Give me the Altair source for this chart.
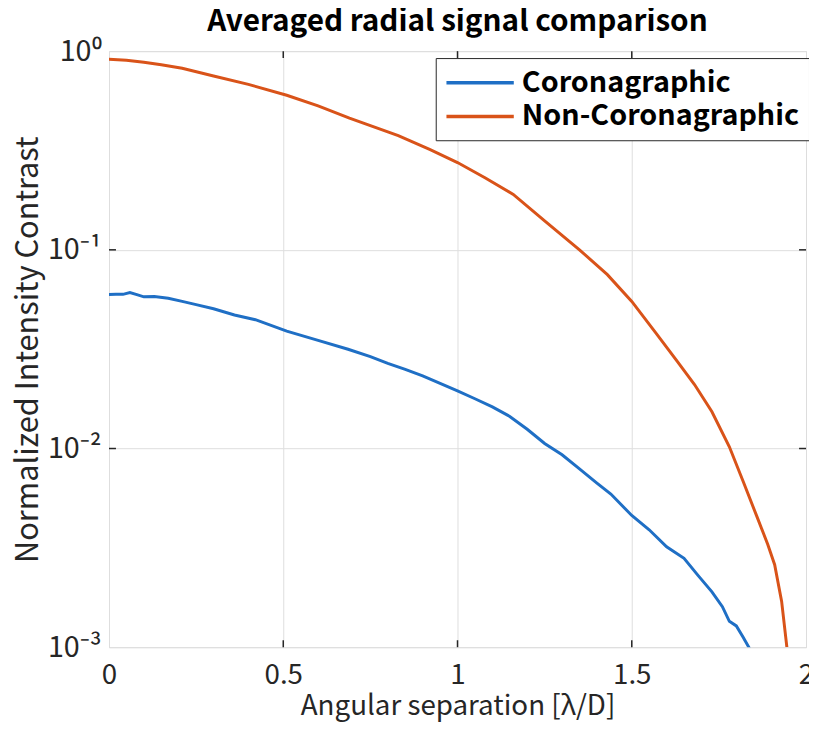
import altair as alt
import pandas as pd

FONT = "Noto Sans CJK JP"

series_names = ["Coronagraphic", "Non-Coronagraphic"]
series_colors = ["#1f6fc5", "#d95319"]

x_coro = [0.0, 0.02, 0.04, 0.06, 0.08, 0.1, 0.13, 0.17, 0.21, 0.25, 0.3, 0.36, 0.42, 0.51,
          0.6, 0.686, 0.75, 0.8, 0.85, 0.9, 0.95, 1.0, 1.05, 1.1, 1.15, 1.2, 1.25, 1.3,
          1.35, 1.4, 1.44, 1.5, 1.55, 1.6, 1.65, 1.69, 1.73, 1.76, 1.78, 1.8, 1.82, 1.84]
y_coro = [0.0596, 0.0598, 0.0597, 0.061, 0.0595, 0.058, 0.0582, 0.057, 0.055, 0.053, 0.0505, 0.047, 0.0445, 0.039,
          0.035, 0.0316, 0.029, 0.0268, 0.025, 0.0232, 0.0213, 0.0195, 0.0178, 0.0162, 0.0145, 0.0125, 0.0106, 0.0093,
          0.0079, 0.0067, 0.0059, 0.0046, 0.0039, 0.0032, 0.0028, 0.0023, 0.0019, 0.0016, 0.00135, 0.00128, 0.00112, 0.00097]

x_non = [0.0, 0.05, 0.1, 0.15, 0.21, 0.3, 0.4, 0.51, 0.6, 0.69, 0.83, 0.92, 1.0, 1.08, 1.16, 1.25,
         1.35, 1.43, 1.5, 1.57, 1.63, 1.68, 1.73, 1.78, 1.82, 1.86, 1.89, 1.91, 1.93, 1.945]
y_non = [0.91, 0.90, 0.88, 0.855, 0.82, 0.75, 0.68, 0.60, 0.53, 0.46, 0.376, 0.32, 0.275, 0.23, 0.19, 0.14,
         0.10, 0.075, 0.055, 0.038, 0.0275, 0.021, 0.0153, 0.0102, 0.0068, 0.0045, 0.0033, 0.0026, 0.0017, 0.001]

x_ticks = [0, 0.5, 1, 1.5, 2]
x_inner_ticks = [0.5, 1, 1.5]
y_ticks = [0.001, 0.01, 0.1, 1]
y_inner_ticks = [0.01, 0.1]

df = pd.concat([
    pd.DataFrame({"x": x_coro, "y": y_coro, "series": series_names[0]}),
    pd.DataFrame({"x": x_non, "y": y_non, "series": series_names[1]}),
])

xscale = alt.Scale(domain=[0, 2], nice=False, zero=False)
yscale = alt.Scale(type="log", domain=[0.001, 1], nice=False)

label_expr = ("datum.value < 0.005 ? '10⁻³' : datum.value < 0.05 ? '10⁻²' : "
              "datum.value < 0.5 ? '10⁻¹' : '10⁰'")

AX = "#262626"

x_axis = alt.Axis(values=x_ticks, title="Angular separation [λ/D]",
                  labelFont=FONT, titleFont=FONT,
                  labelFontSize=28, titleFontSize=28, titleFontWeight="normal",
                  labelColor=AX, titleColor=AX, labelFlush=False,
                  labelPadding=15, titlePadding=3, format="~g",
                  domain=False, ticks=False, grid=True,
                  gridColor="#dedede", gridWidth=1)
y_axis = alt.Axis(values=y_ticks, labelExpr=label_expr,
                  title="Normalized Intensity Contrast",
                  labelFont=FONT, titleFont=FONT, labelFlush=False,
                  labelFontSize=29, titleFontSize=31, titleFontWeight="normal",
                  labelColor=AX, titleColor=AX,
                  labelPadding=8, titlePadding=3,
                  domain=False, ticks=False, grid=True,
                  gridColor="#dedede", gridWidth=1)

lines = alt.Chart(df).mark_line(strokeWidth=3, clip=True).encode(
    x=alt.X("x:Q", scale=xscale, axis=x_axis),
    y=alt.Y("y:Q", scale=yscale, axis=y_axis),
    color=alt.Color("series:N",
                    scale=alt.Scale(domain=series_names, range=series_colors),
                    legend=alt.Legend(title=None, orient="none", legendX=330, legendY=7,
                                      symbolType="M-1,0L3.8,0", symbolSize=803,
                                      symbolStrokeWidth=3.5, labelFontSize=29,
                                      labelFontWeight="bold", labelFont=FONT,
                                      labelColor="black", labelLimit=0,
                                      strokeColor=AX, fillColor="white",
                                      padding=9, rowPadding=3, labelOffset=46)),
    order=alt.Order("x:Q"),
)

tick_len_y = 10 ** 0.035
tick_len_x = 0.02

bottom_ticks = pd.DataFrame({"x": x_inner_ticks, "y": [0.001] * 3, "y2": [0.001 * tick_len_y] * 3})
top_ticks = pd.DataFrame({"x": x_inner_ticks, "y": [1.0] * 3, "y2": [1.0 / tick_len_y] * 3})
left_ticks = pd.DataFrame({"y": y_inner_ticks, "x": [0.0] * 2, "x2": [tick_len_x] * 2})
right_ticks = pd.DataFrame({"y": y_inner_ticks, "x": [2.0] * 2, "x2": [2.0 - tick_len_x] * 2})

vt = alt.Chart(pd.concat([bottom_ticks, top_ticks])).mark_rule(color=AX, strokeWidth=1.5).encode(
    x=alt.X("x:Q", scale=xscale, axis=x_axis), y=alt.Y("y:Q", scale=yscale, axis=y_axis), y2="y2:Q")
ht = alt.Chart(pd.concat([left_ticks, right_ticks])).mark_rule(color=AX, strokeWidth=1.5).encode(
    x=alt.X("x:Q", scale=xscale, axis=x_axis), x2="x2:Q", y=alt.Y("y:Q", scale=yscale, axis=y_axis))

chart = alt.layer(lines, vt, ht).properties(
    width=704, height=602,
    autosize=alt.AutoSizeParams(type="none"),
    padding={"left": 102, "top": 40, "right": 3, "bottom": 74},
    title=alt.TitleParams("Averaged radial signal comparison", fontSize=30,
                          fontWeight="bold", font=FONT, anchor="middle", offset=0,
                          color="black"),
).configure_view(
    stroke=AX, strokeWidth=1.5
).configure(background="white")

chart.save("out.html", embed_options={"renderer": "svg", "actions": False})
